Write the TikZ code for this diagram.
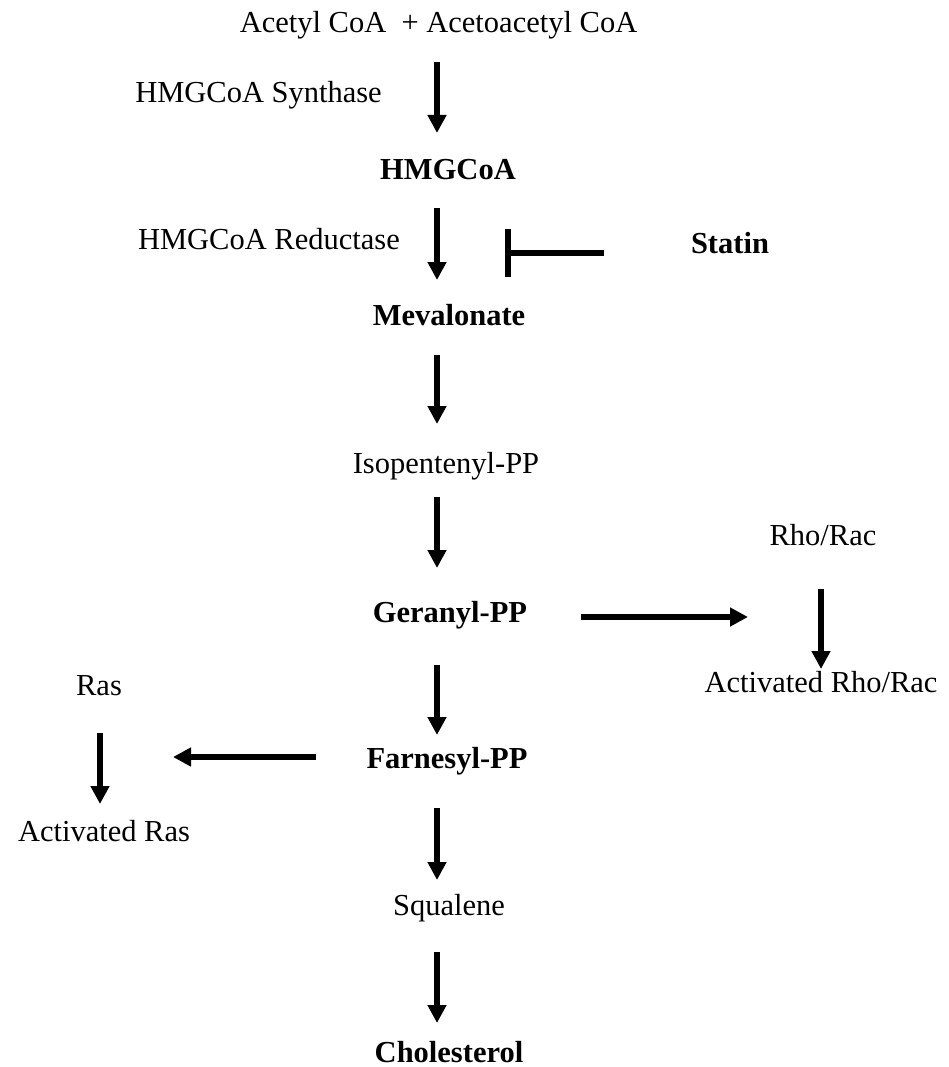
\documentclass[tikz,border=0pt]{standalone}
\usepackage{fontspec}
\setmainfont{Liberation Serif}
\usetikzlibrary{arrows.meta}
\begin{document}
\begin{tikzpicture}[x=1pt,y=-1pt,
  lbl/.style={inner sep=0pt, anchor=base, font=\fontsize{30.5}{36}\selectfont},
  blbl/.style={lbl, font=\fontsize{30.5}{36}\selectfont\bfseries},
  arr/.style={line width=6pt, -{Triangle[length=18pt,width=18pt]}},
  inh/.style={line width=6pt}]
\useasboundingbox (0,0) rectangle (948,1067);
% text nodes
\node[lbl] (acetyl) at (438.5,33) {Acetyl CoA~ + Acetoacetyl CoA};
\node[lbl, anchor=base east] (synth) at (382,103) {HMGCoA Synthase};
\node[blbl] (hmg) at (448,180) {HMGCoA};
\node[lbl, anchor=base east] (reduct) at (400,250) {HMGCoA Reductase};
\node[blbl] (statin) at (730,253) {Statin};
\node[blbl] (meva) at (449,325) {Mevalonate};
\node[lbl] (iso) at (446,473) {Isopentenyl-PP};
\node[blbl] (gera) at (450,622) {Geranyl-PP};
\node[lbl] (rho) at (823,545) {Rho/Rac};
\node[lbl] (arho) at (821,692) {Activated Rho/Rac};
\node[blbl] (farn) at (447,768) {Farnesyl-PP};
\node[lbl] (ras) at (99,695) {Ras};
\node[lbl] (aras) at (104,841) {Activated Ras};
\node[lbl] (squal) at (449,915) {Squalene};
\node[blbl] (chol) at (449,1062) {Cholesterol};
% arrow end points
\coordinate (a1s) at (437,62);  \coordinate (a1e) at (437,133);
\coordinate (a2s) at (437,208); \coordinate (a2e) at (437,280);
\coordinate (a3s) at (437,355); \coordinate (a3e) at (437,424);
\coordinate (a4s) at (437,497); \coordinate (a4e) at (437,568);
\coordinate (a5s) at (437,665); \coordinate (a5e) at (437,735);
\coordinate (a6s) at (437,808); \coordinate (a6e) at (437,880);
\coordinate (a7s) at (437,952); \coordinate (a7e) at (437,1023);
\coordinate (grs) at (581,617); \coordinate (gre) at (748,617);
\coordinate (rhs) at (821,589); \coordinate (rhe) at (821,669);
\coordinate (fls) at (316,757); \coordinate (fle) at (173,757);
\coordinate (rss) at (100,733); \coordinate (rse) at (100,804);
\coordinate (sts) at (604,253); \coordinate (ste) at (508,253);
\coordinate (bart) at (508,229); \coordinate (barb) at (508,277);
% connectors
\draw[arr] (a1s) -- (a1e);
\draw[arr] (a2s) -- (a2e);
\draw[arr] (a3s) -- (a3e);
\draw[arr] (a4s) -- (a4e);
\draw[arr] (a5s) -- (a5e);
\draw[arr] (a6s) -- (a6e);
\draw[arr] (a7s) -- (a7e);
\draw[arr] (grs) -- (gre);
\draw[arr] (rhs) -- (rhe);
\draw[arr] (fls) -- (fle);
\draw[arr] (rss) -- (rse);
\draw[inh] (sts) -- (ste);
\draw[inh] (bart) -- (barb);
\end{tikzpicture}
\end{document}
